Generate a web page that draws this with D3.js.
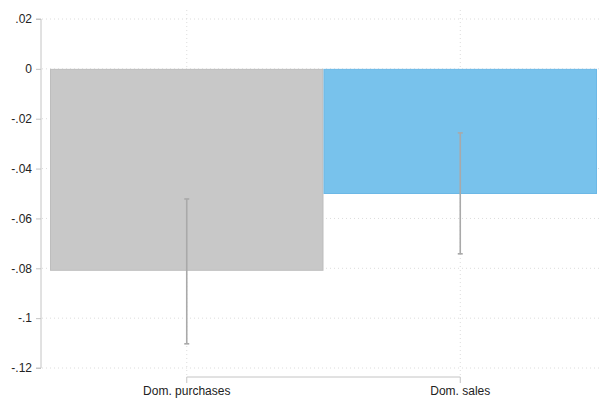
<!DOCTYPE html>
<html>
<head>
<meta charset="utf-8">
<script src="https://cdn.jsdelivr.net/npm/d3@7"></script>
<style>
  html, body { margin: 0; padding: 0; background: #fff; }
  svg { display: block; font-family: "Liberation Sans", Arial, sans-serif; }
</style>
</head>
<body>
<svg id="chart" width="602" height="398"></svg>
<script>
// Coefficient estimates with 95% confidence intervals
const categories = ["Dom. purchases", "Dom. sales"];
const estimates = [-0.081, -0.0502];
const ciLow = [-0.1103, -0.0742];
const ciHigh = [-0.0522, -0.0257];
const barColors = ["#c8c8c8", "#78c2ec"];
const barStrokes = ["#bdbdbd", "#6cb8e6"];
const yTicks = [0.02, 0, -0.02, -0.04, -0.06, -0.08, -0.1, -0.12];

const svg = d3.select("#chart");
const W = 602, H = 398;
const plot = { left: 41, right: 602, top: 19, bottom: 368 };

const y = d3.scaleLinear().domain([-0.12, 0.02]).range([plot.bottom, plot.top]);
// Bars fill the full width between x=50 and x=597
const xBand = d3.scaleBand().domain(categories).range([50, 597]).paddingInner(0).paddingOuter(0);
const xCenter = d => xBand(d) + xBand.bandwidth() / 2;

// Labels without a leading zero: .02, 0, -.02, -.1
const fmt = v => {
  if (Math.abs(v) < 1e-9) return "0";
  const s = String(Math.round(v * 100) / 100);
  return s.replace(/^(-?)0\./, "$1.");
};

// Horizontal dotted gridlines
svg.append("g").selectAll("line").data(yTicks).join("line")
  .attr("x1", plot.left + 1).attr("x2", W)
  .attr("y1", d => y(d)).attr("y2", d => y(d))
  .attr("stroke", "#dcdcdc").attr("stroke-width", 1)
  .attr("stroke-dasharray", "1,3");

// Vertical dotted gridlines at category centres
svg.append("g").selectAll("line").data(categories).join("line")
  .attr("x1", d => xCenter(d)).attr("x2", d => xCenter(d))
  .attr("y1", 10).attr("y2", 377)
  .attr("stroke", "#dcdcdc").attr("stroke-width", 1)
  .attr("stroke-dasharray", "1,3");

// Bars from zero down to the estimate
svg.append("g").selectAll("rect").data(categories).join("rect")
  .attr("x", d => xBand(d) + 0.5)
  .attr("width", xBand.bandwidth() - 1)
  .attr("y", (d, i) => Math.min(y(0), y(estimates[i])) + 0.5)
  .attr("height", (d, i) => Math.abs(y(estimates[i]) - y(0)) - 1)
  .attr("fill", (d, i) => barColors[i])
  .attr("stroke", (d, i) => barStrokes[i])
  .attr("stroke-width", 1);

// Confidence-interval whiskers
const ci = svg.append("g").attr("stroke", "#a9a9a9").attr("stroke-width", 1.6);
categories.forEach((c, i) => {
  const cx = xCenter(c);
  ci.append("line").attr("x1", cx).attr("x2", cx).attr("y1", y(ciHigh[i])).attr("y2", y(ciLow[i]));
  [ciHigh[i], ciLow[i]].forEach(v => {
    ci.append("line").attr("x1", cx - 2.5).attr("x2", cx + 2.5).attr("y1", y(v)).attr("y2", y(v));
  });
});

// Y axis
const yAxis = d3.axisLeft(y).tickValues(yTicks).tickSize(5).tickPadding(4).tickFormat(fmt);
const gy = svg.append("g").attr("transform", `translate(${plot.left},0)`).call(yAxis);
gy.select(".domain").attr("stroke", "#c4c4c4").attr("d", `M-5,${plot.top}H0V${plot.bottom}H-5`);
gy.selectAll(".tick line").attr("stroke", "#c4c4c4");
gy.selectAll(".tick text").attr("fill", "#222").style("font-size", "12px")
  .style("font-family", "Liberation Sans, Arial, sans-serif");

// X axis spanning the category centres
const x0 = xCenter(categories[0]), x1 = xCenter(categories[1]);
const gx = svg.append("g").attr("transform", "translate(0,377)");
gx.append("path").attr("d", `M${x0},6V0H${x1}V6`).attr("fill", "none").attr("stroke", "#c4c4c4");
gx.selectAll("text").data(categories).join("text")
  .attr("x", d => xCenter(d)).attr("y", 17.5)
  .attr("text-anchor", "middle").attr("fill", "#222")
  .style("font-size", "12px")
  .text(d => d);
</script>
</body>
</html>
